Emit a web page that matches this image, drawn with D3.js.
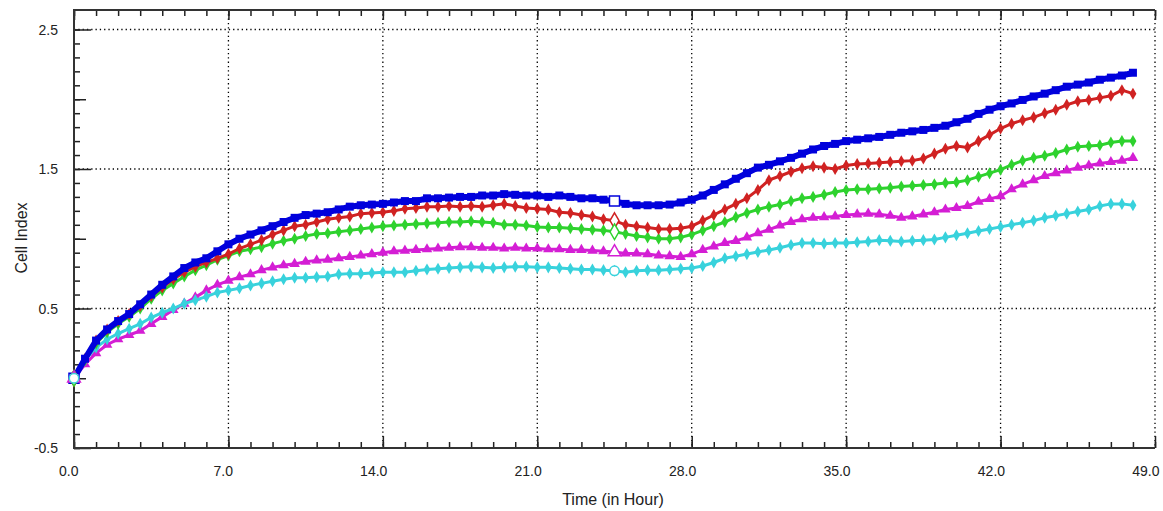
<!DOCTYPE html>
<html>
<head>
<meta charset="utf-8">
<script src="https://cdn.jsdelivr.net/npm/d3@7"></script>
<style>
body{margin:0;background:#fff;}
text{font-family:"Liberation Sans",Arial,sans-serif;fill:#222;}
</style>
</head>
<body>
<svg id="chart"></svg>
<script>
// time stamps (hours) and cell index readings per well
const hours=[0,0.5,1,1.5,2,2.5,3,3.5,4,4.5,5,5.5,6,6.5,7,7.5,8,8.5,9,9.5,
  10,10.5,11,11.5,12,12.5,13,13.5,14,14.5,15,15.5,16,16.5,17,17.5,18,18.5,19,19.5,
  20,20.5,21,21.5,22,22.5,23,23.5,24,24.5,25,25.5,26,26.5,27,27.5,28,28.5,29,29.5,
  30,30.5,31,31.5,32,32.5,33,33.5,34,34.5,35,35.5,36,36.5,37,37.5,38,38.5,39,39.5,
  40,40.5,41,41.5,42,42.5,43,43.5,44,44.5,45,45.5,46,46.5,47,47.5,48];
const blueValues=[0.00,0.14,0.27,0.35,0.41,0.46,0.53,0.60,0.67,0.73,
  0.79,0.83,0.86,0.91,0.96,1.00,1.03,1.06,1.09,1.12,
  1.15,1.17,1.18,1.19,1.21,1.23,1.24,1.245,1.25,1.26,
  1.27,1.27,1.29,1.29,1.295,1.30,1.30,1.31,1.31,1.32,
  1.315,1.31,1.31,1.30,1.31,1.30,1.29,1.29,1.28,1.27,
  1.25,1.24,1.24,1.24,1.245,1.26,1.28,1.31,1.35,1.39,
  1.43,1.47,1.51,1.53,1.555,1.58,1.61,1.64,1.665,1.68,
  1.70,1.71,1.72,1.73,1.745,1.76,1.77,1.78,1.795,1.81,
  1.835,1.86,1.895,1.925,1.95,1.97,1.995,2.02,2.04,2.065,
  2.09,2.105,2.12,2.14,2.155,2.17,2.19];
const redValues=[0.00,0.14,0.27,0.35,0.41,0.46,0.52,0.59,0.65,0.71,
  0.76,0.80,0.83,0.86,0.89,0.93,0.96,0.99,1.03,1.06,
  1.09,1.10,1.12,1.14,1.15,1.16,1.18,1.185,1.19,1.20,
  1.215,1.22,1.23,1.23,1.235,1.23,1.235,1.23,1.24,1.25,
  1.235,1.22,1.215,1.21,1.19,1.185,1.17,1.16,1.14,1.13,
  1.10,1.09,1.08,1.07,1.07,1.075,1.09,1.13,1.17,1.21,
  1.25,1.29,1.35,1.42,1.45,1.48,1.505,1.52,1.51,1.50,
  1.525,1.535,1.54,1.545,1.55,1.555,1.56,1.575,1.61,1.645,
  1.665,1.655,1.70,1.745,1.79,1.825,1.85,1.87,1.90,1.925,
  1.96,1.985,1.995,2.01,2.025,2.065,2.04];
const greenValues=[0.00,0.13,0.25,0.33,0.39,0.44,0.50,0.57,0.63,0.68,
  0.73,0.775,0.81,0.85,0.88,0.91,0.925,0.94,0.965,0.985,
  1.00,1.02,1.035,1.04,1.05,1.06,1.07,1.08,1.09,1.095,
  1.10,1.105,1.11,1.115,1.12,1.12,1.125,1.12,1.115,1.10,
  1.10,1.095,1.085,1.08,1.08,1.075,1.07,1.065,1.06,1.05,
  1.035,1.02,1.01,1.00,1.00,1.01,1.03,1.06,1.09,1.12,
  1.155,1.185,1.21,1.23,1.245,1.27,1.29,1.30,1.315,1.335,
  1.35,1.355,1.355,1.36,1.365,1.375,1.38,1.385,1.39,1.40,
  1.405,1.42,1.445,1.47,1.495,1.53,1.56,1.58,1.595,1.615,
  1.64,1.66,1.665,1.67,1.69,1.70,1.70];
const magentaValues=[0.00,0.10,0.18,0.24,0.28,0.31,0.34,0.39,0.44,0.49,
  0.535,0.58,0.63,0.67,0.70,0.725,0.745,0.775,0.795,0.81,
  0.82,0.835,0.845,0.85,0.86,0.87,0.88,0.89,0.90,0.91,
  0.915,0.92,0.925,0.93,0.935,0.94,0.94,0.935,0.935,0.93,
  0.935,0.93,0.93,0.925,0.925,0.92,0.92,0.915,0.91,0.905,
  0.895,0.895,0.89,0.88,0.875,0.87,0.89,0.92,0.945,0.97,
  0.985,1.01,1.04,1.065,1.095,1.12,1.14,1.15,1.155,1.16,
  1.17,1.175,1.18,1.175,1.165,1.15,1.16,1.175,1.19,1.21,
  1.22,1.235,1.265,1.285,1.305,1.355,1.39,1.42,1.45,1.47,
  1.49,1.51,1.525,1.54,1.55,1.56,1.58];
const cyanValues=[0.00,0.13,0.22,0.28,0.32,0.355,0.39,0.435,0.47,0.50,
  0.535,0.56,0.585,0.615,0.63,0.645,0.665,0.68,0.695,0.71,
  0.72,0.72,0.725,0.73,0.745,0.75,0.75,0.755,0.76,0.76,
  0.76,0.77,0.78,0.785,0.79,0.795,0.80,0.795,0.79,0.795,
  0.80,0.80,0.795,0.795,0.79,0.785,0.78,0.78,0.775,0.77,
  0.76,0.77,0.775,0.775,0.78,0.785,0.79,0.805,0.83,0.86,
  0.875,0.89,0.905,0.92,0.935,0.955,0.97,0.97,0.965,0.97,
  0.97,0.975,0.98,0.99,0.985,0.98,0.985,0.99,0.995,1.01,
  1.025,1.04,1.055,1.07,1.085,1.10,1.115,1.13,1.15,1.165,
  1.18,1.195,1.21,1.235,1.25,1.25,1.24];
const xTicks=[0,7,14,21,28,35,42,49];
const yTicks=[-0.5,0.5,1.5,2.5];
const yMidTicks=[0,1,2];
const openMarkHours=[0,24.5];

const w=1163,h=511;
const plotLeft=74,plotRight=1155,plotTop=10,plotBottom=448;

const svg=d3.select("#chart").attr("width",w).attr("height",h);

const x=d3.scaleLinear().domain([0,49]).range([plotLeft,plotRight]);
const y=d3.scaleLinear().domain([-0.5,2.5]).range([plotBottom,29.5]);

// dotted grid
svg.append("g").selectAll("line").data(xTicks.slice(1)).enter().append("line")
  .attr("x1",d=>x(d)).attr("x2",d=>x(d)).attr("y1",plotTop).attr("y2",plotBottom)
  .attr("stroke","#000").attr("stroke-width",1.3).attr("stroke-dasharray","1.3,3");
svg.append("g").selectAll("line").data(yTicks.slice(1)).enter().append("line")
  .attr("x1",plotLeft).attr("x2",plotRight).attr("y1",d=>y(d)).attr("y2",d=>y(d))
  .attr("stroke","#000").attr("stroke-width",1.3).attr("stroke-dasharray","1.3,3");

// axes (ticks point inward)
const styleAxis=g=>{g.select(".domain").remove();g.selectAll("line").attr("stroke","#222").attr("stroke-width",1.5);};
svg.append("g").attr("transform",`translate(0,${plotBottom})`)
  .call(d3.axisBottom(x).tickValues(d3.range(0,50)).tickSize(-6).tickFormat(""))
  .call(styleAxis);
svg.append("g").attr("transform",`translate(0,${plotBottom})`)
  .call(d3.axisBottom(x).tickValues(xTicks).tickSize(-12).tickFormat(""))
  .call(styleAxis);
svg.append("g").attr("transform",`translate(0,${plotTop})`)
  .call(d3.axisTop(x).tickValues(d3.range(0,50)).tickSize(-6).tickFormat(""))
  .call(styleAxis);
svg.append("g").attr("transform",`translate(0,${plotTop})`)
  .call(d3.axisTop(x).tickValues(xTicks).tickSize(-10).tickFormat(""))
  .call(styleAxis);
svg.append("g").attr("transform",`translate(${plotLeft},0)`)
  .call(d3.axisLeft(y).tickValues(d3.range(-5,26).map(d=>d/10)).tickSize(-6).tickFormat(""))
  .call(styleAxis);
svg.append("g").attr("transform",`translate(${plotLeft},0)`)
  .call(d3.axisLeft(y).tickValues(yMidTicks).tickSize(-12).tickFormat(""))
  .call(styleAxis);
svg.append("g").attr("transform",`translate(${plotLeft},0)`)
  .call(d3.axisLeft(y).tickValues(yTicks).tickSize(-17).tickFormat(""))
  .call(styleAxis);

// axis lines
svg.append("path")
  .attr("d",`M${plotRight},${plotTop}H${plotLeft}V${plotBottom}H${plotRight}`)
  .attr("fill","none").attr("stroke","#333").attr("stroke-width",2);

// tick labels
svg.append("g").selectAll("text").data(xTicks).enter().append("text")
  .attr("x",d=>x(d)+4.5).attr("y",476)
  .attr("text-anchor","end").attr("font-size",14)
  .text(d=>d.toFixed(1));
svg.append("g").selectAll("text").data(yTicks).enter().append("text")
  .attr("x",58).attr("y",d=>y(d)).attr("dy","0.36em")
  .attr("text-anchor","end").attr("font-size",14)
  .text(d=>d.toFixed(1));

// axis titles
svg.append("text").attr("transform","translate(27,238) rotate(-90)")
  .attr("text-anchor","middle").attr("font-size",16).text("Cell Index");
svg.append("text").attr("x",613).attr("y",505)
  .attr("text-anchor","middle").attr("font-size",16).text("Time (in Hour)");

// series
const series=[
  {values:magentaValues,color:"#d41ed4",symbol:d3.symbolTriangle,size:48,open:d3.symbolTriangle,width:3},
  {values:cyanValues,color:"#38d2dc",symbol:d3.symbolDiamond,size:42,open:d3.symbolCircle,width:3},
  {values:greenValues,color:"#2ed22e",symbol:d3.symbolDiamond,size:42,open:d3.symbolDiamond,width:3},
  {values:redValues,color:"#d02222",symbol:d3.symbolDiamond,size:42,open:d3.symbolDiamond,width:3},
  {values:blueValues,color:"#0000dc",symbol:d3.symbolSquare,size:64,open:d3.symbolSquare,width:6}
];

const line=d3.line().x(d=>x(d.h)).y(d=>y(d.v));
series.forEach(s=>{
  const pts=hours.map((hh,i)=>({h:hh,v:s.values[i]}));
  const g=svg.append("g");
  g.append("path").datum(pts).attr("d",line)
    .attr("fill","none").attr("stroke",s.color).attr("stroke-width",s.width);
  g.selectAll("path.m").data(pts).enter().append("path").attr("class","m")
    .attr("transform",d=>`translate(${x(d.h)},${y(d.v)})`)
    .attr("d",d3.symbol().type(s.symbol).size(s.size))
    .attr("fill",s.color);
});

// open markers at start and at 24.5 h
const openOrder=[series[4],series[3],series[2],series[0],series[1]];
openOrder.forEach(s=>{
  const pts=openMarkHours.map(hh=>({h:hh,v:s.values[hours.indexOf(hh)]}));
  svg.append("g").selectAll("path").data(pts).enter().append("path")
    .attr("transform",d=>`translate(${x(d.h)},${y(d.v)})`)
    .attr("d",d3.symbol().type(s.open).size(s.open===d3.symbolSquare?100:70))
    .attr("fill","#fff").attr("stroke",s.color).attr("stroke-width",1.5);
});
</script>
</body>
</html>
